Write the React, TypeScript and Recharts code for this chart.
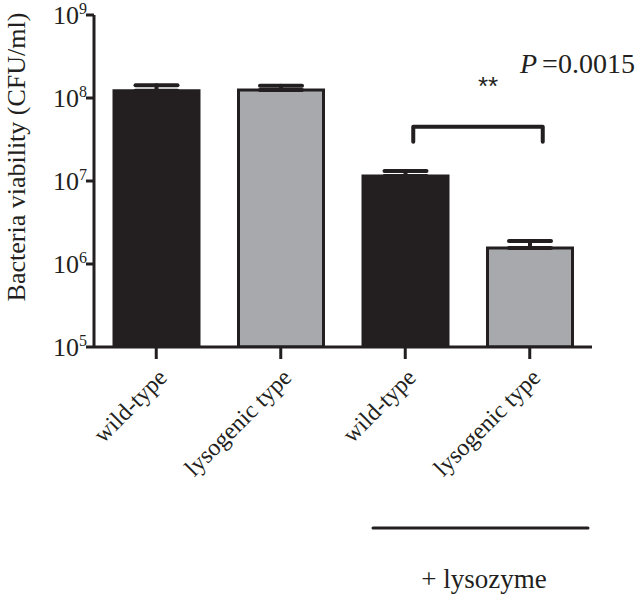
import React from 'react';
import { BarChart, Bar, XAxis, YAxis, Cell, ErrorBar, ReferenceLine } from 'recharts';

const categoryKeys = ['wt', 'lys', 'wt-lyz', 'lys-lyz'];
const categoryLabels = ['wild-type', 'lysogenic type', 'wild-type', 'lysogenic type'];
const viability = [1.22e8, 1.25e8, 1.15e7, 1.56e6];
const upperError = [0.2e8, 0.15e8, 0.17e7, 0.33e6];
const barFills = ['#231f20', '#a7a9ac', '#231f20', '#a7a9ac'];
const yTicks = [1e5, 1e6, 1e7, 1e8, 1e9];
const bracketLevel = 4.5e7;
const yLabel = 'Bacteria viability (CFU/ml)';
const pText = '=0.0015';
const starsText = '**';
const groupText = '+ lysozyme';

const data = categoryKeys.map((k, i) => ({
  key: k,
  value: viability[i],
  err: [0, upperError[i]],
}));

const INK = '#231f20';
const SERIF = '"Liberation Serif", "Times New Roman", serif';

const YTick = (props: any) => {
  const { x, y, payload } = props;
  const exp = Math.round(Math.log10(payload.value));
  return (
    <text x={x + 3} y={y + 9} textAnchor="end" fontSize={26} fontFamily={SERIF} fill={INK}>
      10
      <tspan dy={-10} fontSize={16}>{exp}</tspan>
    </text>
  );
};

const XTick = (props: any) => {
  const { x, y, payload } = props;
  const tx = x + 12;
  const ty = y + 18;
  return (
    <text
      x={tx}
      y={ty}
      transform={`rotate(-45, ${tx}, ${ty})`}
      textAnchor="end"
      fontSize={24}
      fontFamily={SERIF}
      fill={INK}
    >
      {categoryLabels[payload.index]}
    </text>
  );
};

const YLabel = (props: any) => {
  const { viewBox } = props;
  const cx = viewBox.x + 25;
  const cy = viewBox.y + viewBox.height / 2 - 24;
  return (
    <text
      x={cx}
      y={cy}
      transform={`rotate(-90, ${cx}, ${cy})`}
      textAnchor="middle"
      fontSize={26}
      fontFamily={SERIF}
      fill={INK}
    >
      {yLabel}
    </text>
  );
};

const Bracket = (props: any) => {
  const { x1, y1, x2 } = props;
  const a = x1 + 8;
  const b = x2 + 13;
  return (
    <path
      d={`M${a},${y1 + 15} L${a},${y1} L${b},${y1} L${b},${y1 + 15}`}
      fill="none"
      stroke={INK}
      strokeWidth={4}
      strokeLinecap="round"
      strokeLinejoin="round"
    />
  );
};

export default function App() {
  return (
    <div style={{ position: 'absolute', left: 0, top: 0, width: 644, height: 600, background: '#fff' }}>
      <BarChart width={644} height={600} data={data} margin={{ top: 15, right: 52, left: 0, bottom: 0 }}>
        <XAxis
          dataKey="key"
          height={253}
          tick={<XTick />}
          tickSize={12}
          axisLine={{ stroke: INK, strokeWidth: 3 }}
          tickLine={{ stroke: INK, strokeWidth: 3 }}
          interval={0}
        />
        <YAxis
          type="number"
          scale="log"
          domain={[1e5, 1e9]}
          ticks={yTicks}
          allowDataOverflow
          width={94}
          tickSize={8}
          tick={<YTick />}
          axisLine={{ stroke: INK, strokeWidth: 3 }}
          tickLine={{ stroke: INK, strokeWidth: 3 }}
          label={<YLabel />}
        />
        <Bar dataKey="value" barSize={85} stroke={INK} strokeWidth={3} isAnimationActive={false}>
          {data.map((d, i) => (
            <Cell key={d.key} fill={barFills[i]} />
          ))}
          <ErrorBar dataKey="err" direction="y" width={21} stroke={INK} strokeWidth={4} strokeLinecap="round" isAnimationActive={false} />
        </Bar>
        <ReferenceLine
          segment={[
            { x: 'wt-lyz', y: bracketLevel },
            { x: 'lys-lyz', y: bracketLevel },
          ]}
          shape={Bracket}
        />
      </BarChart>
      <svg width={644} height={600} style={{ position: 'absolute', left: 0, top: 0, pointerEvents: 'none' }}>
        <text x={488} y={95} textAnchor="middle" fontSize={26} fontFamily='"Liberation Sans", Arial, sans-serif' fill={INK}>
          {starsText}
        </text>
        <text x={520} y={73} fontSize={28} fontFamily={SERIF} fill={INK}>
          <tspan fontStyle="italic">P</tspan>
          <tspan dx={5}>{pText}</tspan>
        </text>
        <line x1={373} y1={528} x2={588} y2={528} stroke={INK} strokeWidth={3} strokeLinecap="round" />
        <text x={484} y={588} textAnchor="middle" fontSize={27} fontFamily={SERIF} fill={INK}>
          {groupText}
        </text>
      </svg>
    </div>
  );
}
